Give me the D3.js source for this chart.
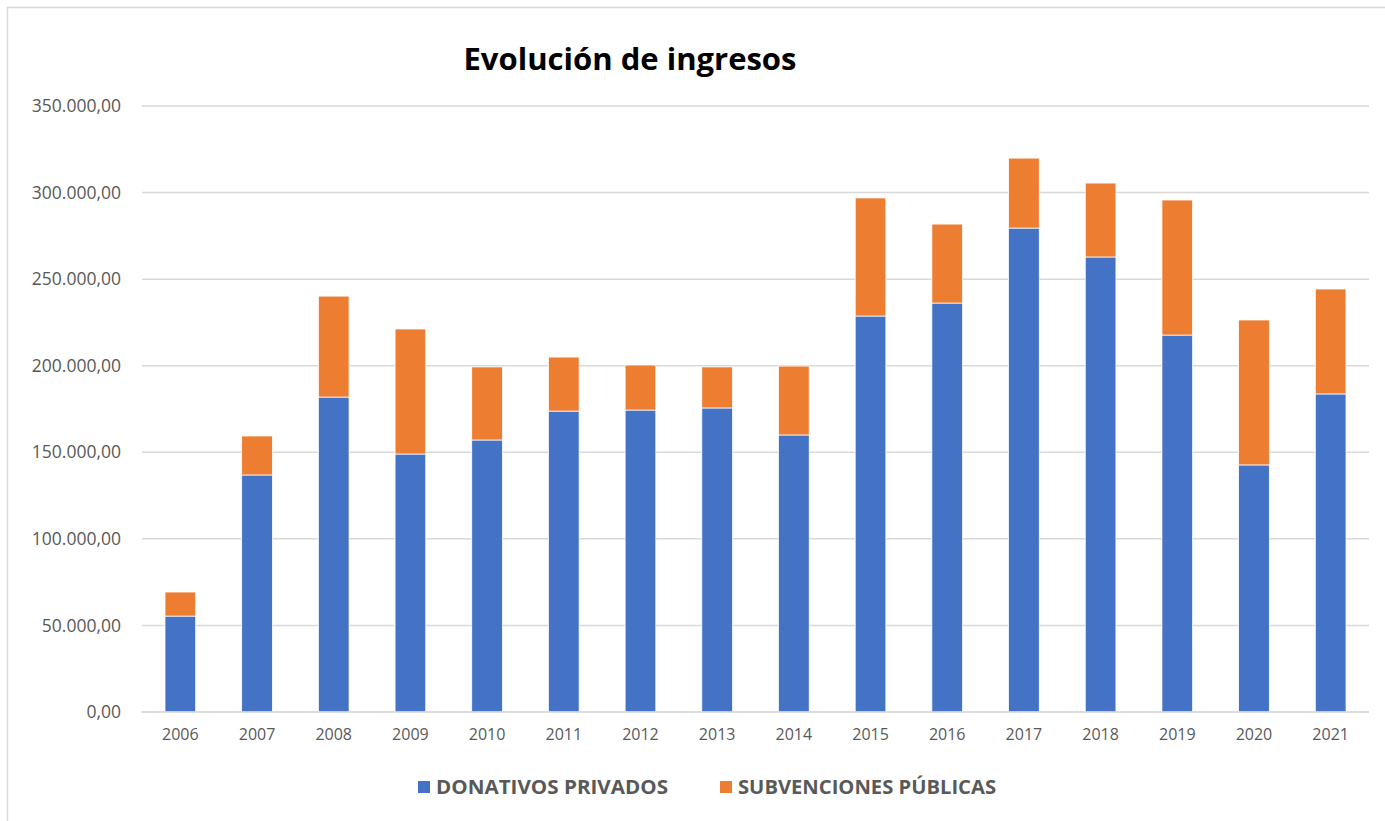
<!DOCTYPE html>
<html>
<head>
<meta charset="utf-8">
<script src="https://cdn.jsdelivr.net/npm/d3@7"></script>
<style>
  body { margin: 0; background: #fff; }
  text { font-family: "Open Sans", "Noto Sans", sans-serif; }
</style>
</head>
<body>
<div id="chart"></div>
<script>
// data
var years = ["2006","2007","2008","2009","2010","2011","2012","2013","2014","2015","2016","2017","2018","2019","2020","2021"];
var donativos = [55400, 136900, 181900, 149000, 157100, 173800, 174400, 175600, 160000, 228700, 236200, 279500, 262800, 217700, 142700, 183700];
var subvenciones = [13900, 22500, 58300, 72200, 42200, 31200, 26000, 23700, 39800, 68200, 45600, 40400, 42700, 78000, 83700, 60600];
var seriesNames = ["DONATIVOS PRIVADOS", "SUBVENCIONES PÚBLICAS"];
var yTicks = [0, 50000, 100000, 150000, 200000, 250000, 300000, 350000];

var W = 1385, H = 821;
var margin = { top: 106, right: 16, bottom: 109, left: 142 },
    width = W - margin.left - margin.right,
    height = H - margin.top - margin.bottom;

var svg = d3.select("#chart").append("svg")
    .attr("width", W)
    .attr("height", H);

// chart border
svg.append("rect")
    .attr("x", 7.5).attr("y", 7.5)
    .attr("width", W).attr("height", H)
    .attr("fill", "none")
    .attr("stroke", "#d9d9d9")
    .attr("stroke-width", 1.5);

// title
svg.append("text")
    .attr("x", 630).attr("y", 70)
    .attr("text-anchor", "middle")
    .attr("font-size", 31)
    .attr("font-weight", "bold")
    .attr("fill", "#000")
    .attr("textLength", 333)
    .attr("lengthAdjust", "spacingAndGlyphs")
    .text("Evolución de ingresos");

var inner = svg.append("g")
    .attr("transform", "translate(" + margin.left + "," + margin.top + ")");

var rows = years.map(function (y, i) {
    var r = { year: y };
    r[seriesNames[0]] = donativos[i];
    r[seriesNames[1]] = subvenciones[i];
    return r;
});

var stackedData = d3.stack().keys(seriesNames)(rows);

var x = d3.scaleBand()
    .domain(years)
    .range([0, width])
    .paddingInner(0.6)
    .paddingOuter(0.3);

var y = d3.scaleLinear()
    .domain([0, 350000])
    .range([height, 0]);

var color = d3.scaleOrdinal()
    .domain(seriesNames)
    .range(["#4472c4", "#ed7d31"]);

var fmt = d3.formatLocale({ decimal: ",", thousands: ".", grouping: [3], currency: ["", "€"] }).format(",.2f");

// grid lines
inner.append("g")
    .selectAll("line")
    .data(yTicks)
    .enter()
    .append("line")
    .attr("x1", 0).attr("x2", width)
    .attr("y1", function (d) { return y(d); })
    .attr("y2", function (d) { return y(d); })
    .attr("stroke", "#d9d9d9")
    .attr("stroke-width", 1.5);

// Y axis labels
var yAxis = inner.append("g")
    .call(d3.axisLeft(y).tickValues(yTicks).tickFormat(fmt).tickSize(0).tickPadding(21));
yAxis.select(".domain").remove();
yAxis.selectAll("text")
    .attr("fill", "#595959")
    .attr("font-size", 17.5)
    .style("font-family", "'Open Sans', sans-serif");

// bars
inner.append("g")
    .selectAll("g")
    .data(stackedData)
    .enter()
    .append("g")
    .attr("fill", function (d) { return color(d.key); })
    .selectAll("rect")
    .data(function (d) { return d; })
    .enter()
    .append("rect")
    .attr("x", function (d) { return x(d.data.year); })
    .attr("y", function (d) { return y(d[1]); })
    .attr("height", function (d) { return y(d[0]) - y(d[1]); })
    .attr("width", x.bandwidth())
    .attr("stroke", "#fff")
    .attr("stroke-width", 0.75);

// X axis
var xAxis = inner.append("g")
    .attr("transform", "translate(0," + height + ")")
    .call(d3.axisBottom(x).tickSize(0).tickPadding(17));
xAxis.select(".domain").remove();
xAxis.selectAll("text")
    .attr("fill", "#595959")
    .attr("font-size", 16)
    .style("font-family", "'Open Sans', sans-serif");

// baseline
inner.append("line")
    .attr("x1", 0).attr("x2", width)
    .attr("y1", height).attr("y2", height)
    .attr("stroke", "#d9d9d9")
    .attr("stroke-width", 1.5);

// legend
var legendPos = [{ sq: 418, tx: 436, len: 232 }, { sq: 720, tx: 738, len: 258 }];
var legend = svg.selectAll(".legend")
    .data(seriesNames)
    .enter()
    .append("g")
    .attr("class", "legend");

legend.append("rect")
    .attr("x", function (d, i) { return legendPos[i].sq; })
    .attr("y", 781)
    .attr("width", 12).attr("height", 12)
    .attr("fill", function (d) { return color(d); });

legend.append("text")
    .attr("x", function (d, i) { return legendPos[i].tx; })
    .attr("y", 794)
    .attr("font-size", 20)
    .attr("font-weight", "bold")
    .attr("fill", "#595959")
    .attr("textLength", function (d, i) { return legendPos[i].len; })
    .attr("lengthAdjust", "spacingAndGlyphs")
    .text(function (d) { return d; });
</script>
</body>
</html>
